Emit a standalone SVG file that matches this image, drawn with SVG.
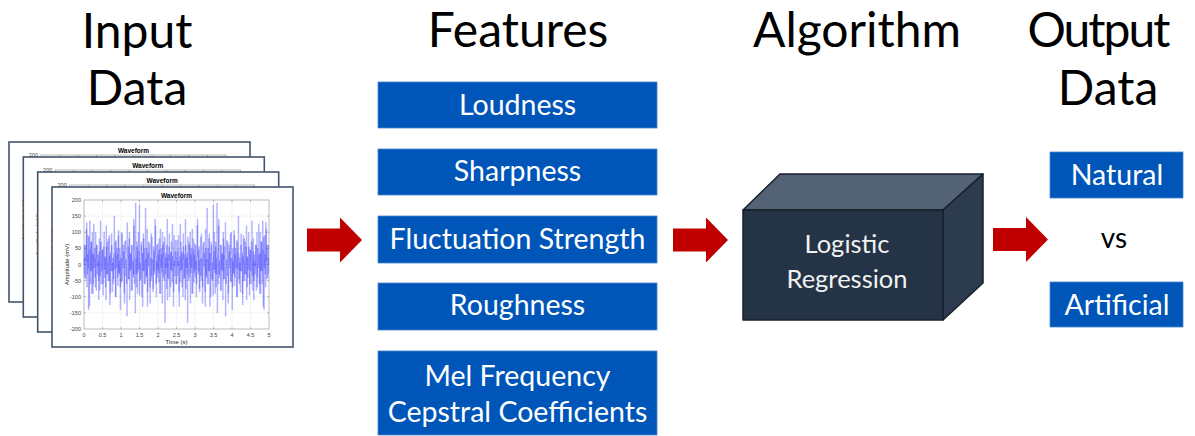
<svg xmlns="http://www.w3.org/2000/svg" xmlns:xlink="http://www.w3.org/1999/xlink" width="1195" height="436" viewBox="0 0 1195 436">
  <style>
    .title { font-family: Lato, "Liberation Sans", sans-serif; font-size: 48px; fill: #000; text-anchor: middle; }
    .box { fill: #0056B8; stroke: #4A86D0; stroke-width: 0.8; }
    .boxtxt { font-family: Lato, "Liberation Sans", sans-serif; font-size: 28.5px; fill: #fff; text-anchor: middle; }
    .cubetxt { font-family: Lato, "Liberation Sans", sans-serif; font-size: 25.5px; fill: #f2f2f2; text-anchor: middle; }
    .vs { font-family: Lato, "Liberation Sans", sans-serif; font-size: 28px; fill: #000; text-anchor: middle; }
    .arrow { fill: #C00000; }
    .frame { fill: #fff; stroke: #44546A; stroke-width: 1.6; }
    .grid { stroke: #e6e6e6; stroke-width: 0.5; fill: none; }
    .axes { fill: none; stroke: #8c8c8c; stroke-width: 0.6; }
    .tick { font-family: "Liberation Sans", Arial, sans-serif; font-size: 5.5px; fill: #404040; }
    .lbl { font-family: "Liberation Sans", Arial, sans-serif; font-size: 6px; fill: #262626; text-anchor: middle; }
    .ptitle { font-family: "Liberation Sans", Arial, sans-serif; font-size: 6.5px; font-weight: bold; fill: #000; text-anchor: middle; }
    .wave { fill: none; stroke: #1a1aff; stroke-opacity: 0.36; stroke-width: 0.7; }
  </style>
  <defs>
    <!-- one waveform figure: frame, axes, grid, labels -->
    <symbol id="panel" overflow="visible">
      <rect class="frame" x="0" y="0" width="241" height="160"/>
      <path class="grid" d="M50.5 13V142M69 13V142M87.5 13V142M106 13V142M124.5 13V142M143 13V142M161.5 13V142M180 13V142M198.5 13V142
                           M32 29.1H217M32 45.25H217M32 61.4H217M32 77.5H217M32 93.6H217M32 109.75H217M32 125.9H217"/>
      <rect class="axes" x="32" y="13" width="185" height="129"/>
      <path class="axes" d="M50.5 13v1.8M69 13v1.8M87.5 13v1.8M106 13v1.8M124.5 13v1.8M143 13v1.8M161.5 13v1.8M180 13v1.8M198.5 13v1.8
                           M50.5 142v-1.8M69 142v-1.8M87.5 142v-1.8M106 142v-1.8M124.5 142v-1.8M143 142v-1.8M161.5 142v-1.8M180 142v-1.8M198.5 142v-1.8
                           M32 29.1h1.8M32 45.25h1.8M32 61.4h1.8M32 77.5h1.8M32 93.6h1.8M32 109.75h1.8M32 125.9h1.8
                           M217 29.1h-1.8M217 45.25h-1.8M217 61.4h-1.8M217 77.5h-1.8M217 93.6h-1.8M217 109.75h-1.8M217 125.9h-1.8"/>
      <text class="ptitle" x="124.5" y="10.5">Waveform</text>
      <g class="tick" text-anchor="end">
        <text x="29" y="15">200</text>
        <text x="29" y="31.1">150</text>
        <text x="29" y="47.2">100</text>
        <text x="29" y="63.4">50</text>
        <text x="29" y="79.5">0</text>
        <text x="29" y="95.6">-50</text>
        <text x="29" y="111.7">-100</text>
        <text x="29" y="127.9">-150</text>
        <text x="29" y="144">-200</text>
      </g>
      <g class="tick" text-anchor="middle">
        <text x="32" y="150">0</text>
        <text x="50.5" y="150">0.5</text>
        <text x="69" y="150">1</text>
        <text x="87.5" y="150">1.5</text>
        <text x="106" y="150">2</text>
        <text x="124.5" y="150">2.5</text>
        <text x="143" y="150">3</text>
        <text x="161.5" y="150">3.5</text>
        <text x="180" y="150">4</text>
        <text x="198.5" y="150">4.5</text>
        <text x="217" y="150">5</text>
      </g>
      <text class="lbl" x="124.5" y="156.5">Time (s)</text>
      <text class="lbl" transform="translate(17 77.5) rotate(-90)">Amplitude (mV)</text>
    </symbol>
    <!-- noisy amplitude trace, in samples (x) and mV (y) -->
    <path id="trace" class="wave" vector-effect="non-scaling-stroke" d="M0 0
      V20h1V-40h1V60h1V10h1V130h1V-30h1V90h1V-140h1V40h1V135h1V-60h1V70h1V-20h1V100h1V-90h1V30h1V-10h1V50h1V-70h1V20h1V60h1V-30h1V10h1V-50h1V40h1V-80h1V15h1V70h1V-20h1V45h1
      V-60h1V30h1V100h1V-40h1V20h1V-110h1V55h1V10h1V-30h1V80h1V-50h1V25h1V-90h1V40h1V95h1V-20h1V5h1V-60h1V35h1V-15h1V70h1V-100h1V20h1V50h1V-40h1V90h1V-25h1V10h1V-70h1V30h1
      V100h1V-50h1V15h1V60h1V-30h1V-120h1V40h1V75h1V-10h1V-160h1V20h1V55h1V-45h1V100h1V-20h1V30h1V-80h1V60h1V10h1V-40h1V140h1V-60h1V25h1V190h1V-30h1V70h1V-90h1V40h1V-15h1V185h1
      V-50h1V20h1V60h1V-100h1V35h1V-20h1V80h1V-60h1V10h1V175h1V-40h1V50h1V-130h1V25h1V70h1V-10h1V-70h1V40h1V95h1V-35h1V15h1V-85h1V55h1V-20h1V30h1V120h1V-60h1V10h1V-40h1V65h1
      V-25h1V45h1V-90h1V110h1V-10h1V30h1V-120h1V60h1V5h1V-50h1V85h1V-30h1V20h1V-75h1V140h1V-40h1V15h1V55h1V-100h1V35h1V-15h1V70h1V-55h1V25h1V-130h1V90h1V-5h1V40h1V-60h1V20h1
      V75h1V-35h1V10h1V-85h1V50h1V125h1V-20h1V40h1V-70h1V15h1V95h1V-45h1V30h1V-110h1V60h1V-10h1V35h1V-180h1V20h1V70h1V-40h1V100h1V-25h1V50h1V-90h1V15h1V80h1V-55h1V30h1V-15h1
      V60h1V-100h1V25h1V140h1V-30h1V45h1V-75h1V10h1V85h1V-50h1V20h1V-120h1V65h1V-5h1V35h1V-85h1V110h1V-35h1V15h1V-60h1V50h1V-20h1V95h1V-130h1V30h1V70h1V-45h1V5h1V-95h1V40h1
      V100h1V-25h1V55h1V-70h1V20h1V-150h1V45h1V120h1V-30h1V10h1V-80h1V60h1V-15h1V35h1V-110h1V80h1V-45h1V25h1V130h1V-60h1V15h1V-35h1V70h1V-90h1V40h1V-10h1V95h1V-55h1V20h1V-140h1
      V50h1V-30h1V105h1V-65h1V30h1V-10h1V75h1V-100h1V40h1V150h1V-45h1V20h1V-85h1V60h1V-20h1V35h1V-125h1V90h1V5h1V-50h1V70h1V-30h1V120h1V-70h1V25h1V-15h1V55h1V-95h1V45h1V10h1
      V-60h1V135h1V-35h1V80h1V-110h1V30h1V-5h1V60h1V-80h1V100h1V-40h1V15h1V125h1V-60h1V35h1V-90h1V70h1V-20h1V45h1V-130h1V85h1V-10h1V30h1V-70h1V110h1V-45h1V20h1V60h1V-30"/>
    <path id="arrowShape" d="M0 -11.5H33V-22.5L55 0L33 22.5V11.5H0Z"/>
  </defs>

  <!-- column headings -->
  <g id="headings">
    <text class="title" x="137" y="48">Input</text>
    <text class="title" x="137" y="105">Data</text>
    <text class="title" x="518" y="47">Features</text>
    <text class="title" x="857" y="47">Algorithm</text>
    <text class="title" x="1098" y="47" letter-spacing="-2">Output</text>
    <text class="title" x="1108" y="105">Data</text>
  </g>

  <!-- stack of waveform plots -->
  <g id="input-data">
    <use xlink:href="#panel" href="#panel" x="9" y="142"/>
    <use xlink:href="#panel" href="#panel" x="23.3" y="157"/>
    <use xlink:href="#panel" href="#panel" x="37.7" y="172"/>
    <use xlink:href="#panel" href="#panel" x="52" y="187"/>
    <g transform="translate(84 264.5) scale(0.619 -0.3225)">
      <use xlink:href="#trace" href="#trace"/>
    </g>
    <g transform="translate(268.7 264.5) scale(-0.619 -0.3225)">
      <use xlink:href="#trace" href="#trace"/>
    </g>
  </g>

  <!-- feature list -->
  <g id="feature-loudness">
    <rect class="box" x="378" y="82" width="279" height="46"/>
    <text class="boxtxt" x="517.5" y="115">Loudness</text>
  </g>
  <g id="feature-sharpness">
    <rect class="box" x="378" y="149" width="279" height="46"/>
    <text class="boxtxt" x="517.5" y="181">Sharpness</text>
  </g>
  <g id="feature-fluctuation">
    <rect class="box" x="378" y="216" width="279" height="47"/>
    <text class="boxtxt" x="517.5" y="249">Fluctuation Strength</text>
  </g>
  <g id="feature-roughness">
    <rect class="box" x="378" y="283" width="279" height="47"/>
    <text class="boxtxt" x="517.5" y="315">Roughness</text>
  </g>
  <g id="feature-mfcc">
    <rect class="box" x="378" y="351" width="279" height="84"/>
    <text class="boxtxt" x="517.5" y="386">Mel Frequency</text>
    <text class="boxtxt" x="517.5" y="422">Cepstral Coefficients</text>
  </g>

  <!-- algorithm block -->
  <g id="algorithm" stroke="#17202B" stroke-width="1.5" stroke-linejoin="round">
    <polygon points="743,210 780,174 983,174 943,210" fill="#536275"/>
    <polygon points="943,210 983,174 983,283 943,320" fill="#2C3B4D"/>
    <rect x="743" y="210" width="200" height="110" fill="#243446"/>
    <text class="cubetxt" stroke="none" x="847" y="253">Logistic</text>
    <text class="cubetxt" stroke="none" x="847" y="288">Regression</text>
  </g>

  <!-- outputs -->
  <g id="output-natural">
    <rect class="box" x="1050" y="152" width="133" height="46"/>
    <text class="boxtxt" x="1117" y="185">Natural</text>
  </g>
  <g id="output-vs">
    <text class="vs" x="1114" y="248">vs</text>
  </g>
  <g id="output-artificial">
    <rect class="box" x="1050" y="282" width="133" height="45"/>
    <text class="boxtxt" x="1117" y="315">Artificial</text>
  </g>

  <!-- flow arrows -->
  <g id="connectors" class="arrow">
    <use xlink:href="#arrowShape" href="#arrowShape" x="307" y="240"/>
    <use xlink:href="#arrowShape" href="#arrowShape" x="673" y="240"/>
    <use xlink:href="#arrowShape" href="#arrowShape" x="993" y="239.5"/>
  </g>
</svg>
